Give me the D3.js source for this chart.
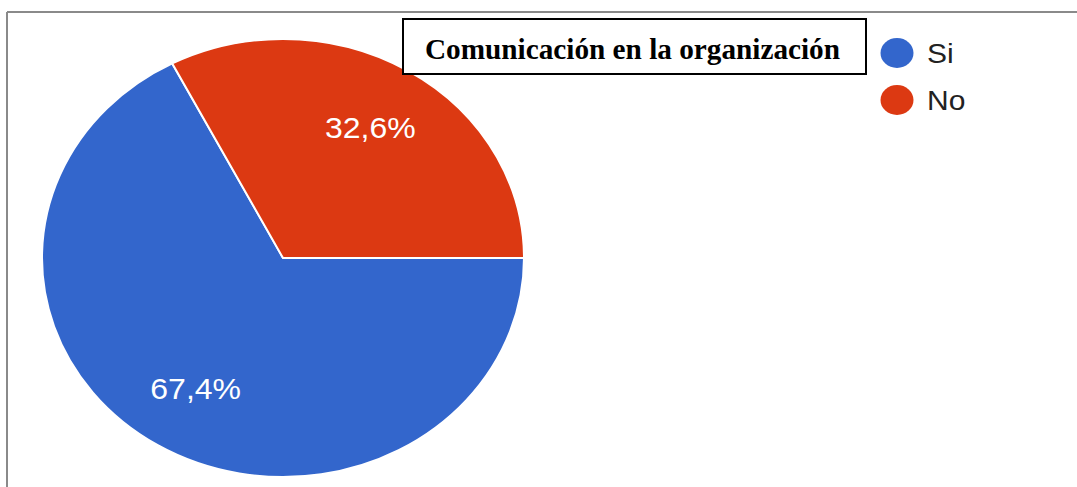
<!DOCTYPE html>
<html>
<head>
<meta charset="utf-8">
<script src="https://cdn.jsdelivr.net/npm/d3@7"></script>
<style>
  html, body { margin: 0; padding: 0; background: #fff; }
  svg { display: block; }
</style>
</head>
<body>
<svg id="chart" width="1077" height="487"></svg>
<script>
// Survey answers and their shares (percent)
const categories = ["Si", "No"];
const values = [67.4, 32.6];
const colors = ["#3366CC", "#DC3912"];
const valueLabels = ["67,4%", "32,6%"];
const title = "Comunicación en la organización";

const W = 1077, H = 487;
const svg = d3.select("#chart");

// Frame lines (top and left)
svg.append("line").attr("x1", 7).attr("y1", 12).attr("x2", W).attr("y2", 12)
  .attr("stroke", "#8a8a8a").attr("stroke-width", 2);
svg.append("line").attr("x1", 7).attr("y1", 12).attr("x2", 7).attr("y2", H)
  .attr("stroke", "#8a8a8a").attr("stroke-width", 2);

// Pie, slightly flattened vertically
const cx = 283, cy = 258, r = 241, sy = 219 / 241;
const pie = d3.pie().sort(null).value(d => d)
  .startAngle(Math.PI / 2).endAngle(Math.PI / 2 + 2 * Math.PI);
const arcs = pie(values);
const arc = d3.arc().innerRadius(0).outerRadius(r);
const labelArc = d3.arc().innerRadius(168).outerRadius(168);

const g = svg.append("g").attr("transform", `translate(${cx},${cy}) scale(1,${sy})`);
g.selectAll("path.slice").data(arcs).enter().append("path")
  .attr("class", "slice")
  .attr("d", arc)
  .attr("fill", (d, i) => colors[i])
  .attr("stroke", "#ffffff")
  .attr("stroke-width", 2)
  .attr("stroke-linejoin", "round");

g.selectAll("text.val").data(arcs).enter().append("text")
  .attr("class", "val")
  .attr("transform", d => { const c = labelArc.centroid(d); return `translate(${c[0]},${c[1]})`; })
  .attr("text-anchor", "middle")
  .attr("dominant-baseline", "central")
  .attr("font-family", "Liberation Sans, Arial, sans-serif")
  .attr("font-size", 32)
  .attr("fill", "#ffffff")
  .text((d, i) => valueLabels[i]);

// Legend
const legendX = 897, legendY0 = 53, legendStep = 47;
const legend = svg.append("g");
categories.forEach((c, i) => {
  const y = legendY0 + i * legendStep;
  legend.append("ellipse").attr("cx", legendX).attr("cy", y)
    .attr("rx", 16.5).attr("ry", 15).attr("fill", colors[i]);
  legend.append("text")
    .attr("transform", `translate(${legendX + 30},${y + 10}) scale(1,${sy})`)
    .attr("font-family", "Liberation Sans, Arial, sans-serif")
    .attr("font-size", 30)
    .attr("fill", "#222222")
    .text(c);
});

// Boxed title
svg.append("rect").attr("x", 403).attr("y", 19).attr("width", 463).attr("height", 55)
  .attr("fill", "#ffffff").attr("stroke", "#000000").attr("stroke-width", 2);
svg.append("text")
  .attr("x", 425).attr("y", 58.5)
  .attr("font-family", "Liberation Serif, 'Times New Roman', serif")
  .attr("font-weight", "bold")
  .attr("font-size", 30)
  .attr("fill", "#000000")
  .attr("textLength", 415)
  .attr("lengthAdjust", "spacingAndGlyphs")
  .text(title);
</script>
</body>
</html>
